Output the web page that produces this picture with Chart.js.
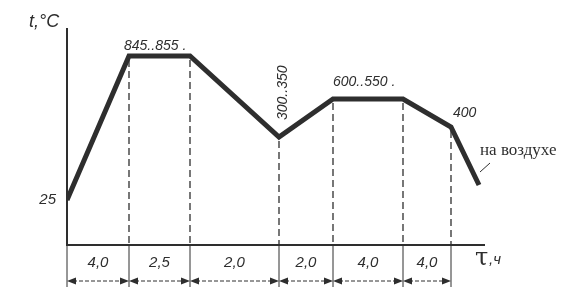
<!DOCTYPE html>
<html>
<head>
<meta charset="utf-8">
<script src="https://cdn.jsdelivr.net/npm/chart.js@4"></script>
<style>
  html, body { margin: 0; padding: 0; background: #fff; }
  #wrap { width: 575px; height: 292px; }
</style>
</head>
<body>
<div id="wrap"><canvas id="regime"></canvas></div>
<script>
// Схема режима термообработки (положения схематические, не в масштабе)
const pathX = [0, 62, 123, 212, 266, 336, 384, 412];
const pathY = [45, 189, 189, 108, 146, 146, 118, 60];
const stageEdges = [0, 62, 123, 212, 266, 336, 384];
const stageTimes = ['4,0', '2,5', '2,0', '2,0', '4,0', '4,0'];
const tempLabels = ['25', '845..855 .', '300..350', '600..550 .', '400'];
const coolNote = 'на воздухе';

const INK = '#2e2e2e';

const schemePlugin = {
    id: 'scheme',
    afterDatasetsDraw(chart) {
        const ctx = chart.ctx;
        const xs = chart.scales.x, ys = chart.scales.y;
        const area = chart.chartArea;
        const px = v => xs.getPixelForValue(v);
        const py = v => ys.getPixelForValue(v);
        const axisY = area.bottom;
        const lowY = axisY + 42;
        const dimY = axisY + 36;

        ctx.save();
        ctx.strokeStyle = INK;
        ctx.fillStyle = INK;

        // вертикальные выносные линии
        stageEdges.forEach((e, i) => {
            const x = px(e);
            if (i > 0) {
                const top = py(pathY[pathX.indexOf(e)]) + 4;
                ctx.setLineDash([7, 4]);
                ctx.lineWidth = 1.3;
                ctx.beginPath();
                ctx.moveTo(x, top);
                ctx.lineTo(x, axisY);
                ctx.stroke();
            }
            ctx.setLineDash([]);
            ctx.lineWidth = 1;
            ctx.beginPath();
            ctx.moveTo(x, axisY);
            ctx.lineTo(x, lowY);
            ctx.stroke();
        });

        // оси
        ctx.setLineDash([]);
        ctx.lineWidth = 2;
        ctx.beginPath();
        ctx.moveTo(area.left, area.top);
        ctx.lineTo(area.left, axisY);
        ctx.lineTo(area.right, axisY);
        ctx.stroke();

        // размерные линии со стрелками
        for (let i = 0; i < stageTimes.length; i++) {
            const x0 = px(stageEdges[i]), x1 = px(stageEdges[i + 1]);
            ctx.setLineDash([4, 2]);
            ctx.lineWidth = 1;
            ctx.beginPath();
            ctx.moveTo(x0 + 6, dimY);
            ctx.lineTo(x1 - 6, dimY);
            ctx.stroke();
            ctx.setLineDash([]);
            [[x0, 1], [x1, -1]].forEach(([x, d]) => {
                ctx.beginPath();
                ctx.moveTo(x, dimY);
                ctx.lineTo(x + 9 * d, dimY - 3.5);
                ctx.lineTo(x + 9 * d, dimY + 3.5);
                ctx.closePath();
                ctx.fill();
            });
            ctx.font = 'italic 15px "Liberation Sans", Arial, sans-serif';
            ctx.textAlign = 'center';
            ctx.textBaseline = 'middle';
            ctx.fillText(stageTimes[i], (x0 + x1) / 2, axisY + 18);
        }

        // подписи температур
        ctx.font = 'italic 15px "Liberation Sans", Arial, sans-serif';
        ctx.textAlign = 'right';
        ctx.textBaseline = 'middle';
        ctx.fillText(tempLabels[0], area.left - 11, py(pathY[0]));

        ctx.font = 'italic 14px "Liberation Sans", Arial, sans-serif';
        ctx.textAlign = 'left';
        ctx.textBaseline = 'alphabetic';
        ctx.fillText(tempLabels[1], px(pathX[1]) - 5, py(pathY[1]) - 6);
        ctx.fillText(tempLabels[3], px(pathX[4]), py(pathY[4]) - 13);
        ctx.fillText(tempLabels[4], px(pathX[6]) + 2, py(pathY[6]) - 10);

        ctx.save();
        ctx.translate(px(pathX[3]) + 8, py(pathY[3]) - 17);
        ctx.rotate(-Math.PI / 2);
        ctx.fillText(tempLabels[2], 0, 0);
        ctx.restore();

        // на воздухе
        ctx.font = '17px "Liberation Serif", "DejaVu Serif", serif';
        ctx.fillText(coolNote, px(pathX[7]) + 1, py(pathY[7]) - 30);
        ctx.lineWidth = 1;
        ctx.beginPath();
        ctx.moveTo(px(pathX[7]) + 11, py(pathY[7]) - 22);
        ctx.lineTo(px(pathX[7]) + 1, py(pathY[7]) - 13);
        ctx.stroke();

        // названия осей
        ctx.font = 'italic 18px "Liberation Sans", Arial, sans-serif';
        ctx.textAlign = 'left';
        ctx.fillText('t,°C', area.left - 38, area.top - 1);
        ctx.font = '24px "DejaVu Serif", serif';
        ctx.fillText('τ', area.right - 10, axisY + 20);
        ctx.font = 'italic 15px "Liberation Sans", Arial, sans-serif';
        ctx.fillText(',ч', area.right + 4, axisY + 19);

        ctx.restore();
    }
};

new Chart(document.getElementById('regime'), {
    type: 'line',
    data: {
        datasets: [{
            data: pathX.map((x, i) => ({ x: x, y: pathY[i] })),
            borderColor: INK,
            borderWidth: 5,
            borderJoinStyle: 'miter',
            pointRadius: 0,
            tension: 0,
            fill: false
        }]
    },
    options: {
        responsive: true,
        maintainAspectRatio: false,
        animation: false,
        layout: { padding: { left: 67, right: 90, top: 28, bottom: 47 } },
        scales: {
            x: { type: 'linear', min: 0, max: 418, display: false },
            y: { type: 'linear', min: 0, max: 217, display: false }
        },
        plugins: { legend: { display: false }, tooltip: { enabled: false } }
    },
    plugins: [schemePlugin]
});
</script>
</body>
</html>
